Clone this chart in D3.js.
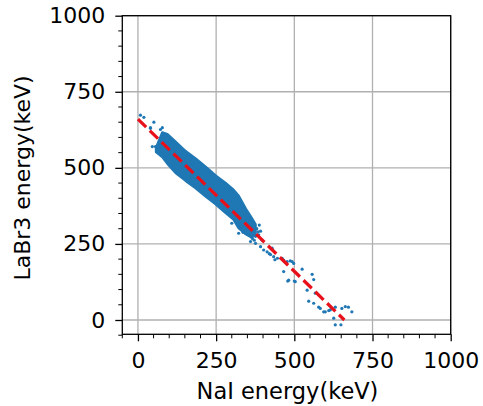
<!DOCTYPE html>
<html>
<head>
<meta charset="utf-8">
<script src="https://cdn.jsdelivr.net/npm/d3@7"></script>
<style>
  body { margin: 0; background: #fff; }
  svg text { font-family: "DejaVu Sans", sans-serif; }
</style>
</head>
<body>
<script>
// axis ticks
var xTicks = [0, 250, 500, 750, 1000];
var yTicks = [0, 250, 500, 750, 1000];

// dense core of the scatter: NaI energy vs upper / lower LaBr3 edge
var bandX      = [58, 78, 94, 120, 152, 184, 216, 248, 280, 306, 322, 345, 362, 376];
var bandTop    = [566, 616, 611, 586, 555, 531, 504, 475, 450, 427, 408, 365, 338, 314];
var bandBottom = [552, 536, 514, 484, 458, 434, 407, 381, 352, 330, 302, 282, 272, 280];

// loose points
var ptNaI   = [8, 19, 51, 40, 46, 56, 40, 78, 72, 70, 66, 88, 104, 60,
               350, 362, 372, 384, 388, 366, 376, 392, 370, 376, 392, 397,
               402, 413, 420, 429, 434, 424, 446, 438, 461, 466, 477, 487, 493, 498,
               466, 479, 482, 500, 503, 525, 557, 562,
               541, 567, 546, 562, 578, 594, 610, 620, 631, 652, 663, 673, 684,
               626, 631, 649, 599, 583, 615, 322, 336, 300, 380, 386, 372, 360];
var ptLaBr  = [673, 666, 650, 632, 570, 570, 630, 632, 626, 560, 572, 608, 592, 558,
               320, 310, 300, 290, 312, 268, 275, 292, 285, 252, 241, 262,
               230, 224, 218, 236, 208, 215, 203, 198, 203, 197, 192, 194, 192, 186,
               159, 128, 131, 128, 126, 167, 150, 133,
               98, 88, 62, 55, 42, 27, 31, 38, 42, 38, 44, 42, 27,
               6, -16, -16, 27, 38, 33, 285, 288, 318, 300, 280, 262, 258];

// fitted line
var fitNaI  = [0, 660];
var fitLaBr = [660, 0];

var width = 483, height = 406;
var plotL = 122.3, plotR = 450.7, plotT = 15.7, plotB = 334.3;

var svg = d3.select("body").append("svg")
            .attr("width", width)
            .attr("height", height);

var x = d3.scaleLinear().domain([-50, 1000]).range([plotL, plotR]);
var y = d3.scaleLinear().domain([-47, 1000]).range([plotB, plotT]);

// grid
svg.append("g").selectAll("line")
   .data(xTicks).enter().append("line")
   .attr("x1", function(d){return x(d)}).attr("x2", function(d){return x(d)})
   .attr("y1", plotT).attr("y2", plotB)
   .attr("stroke", "#b0b0b0").attr("stroke-width", 1.3);
svg.append("g").selectAll("line")
   .data(yTicks).enter().append("line")
   .attr("y1", function(d){return y(d)}).attr("y2", function(d){return y(d)})
   .attr("x1", plotL).attr("x2", plotR)
   .attr("stroke", "#b0b0b0").attr("stroke-width", 1.3);

var blue = "#1f77b4";

// band
var area = d3.area()
             .x(function(d, i){return x(bandX[i])})
             .y0(function(d, i){return y(bandBottom[i])})
             .y1(function(d, i){return y(bandTop[i])});
svg.append("path")
   .attr("d", area(bandX))
   .attr("fill", blue)
   .attr("stroke", blue)
   .attr("stroke-width", 2.5)
   .attr("stroke-linejoin", "round");

svg.append("g").selectAll("circle")
   .data(ptNaI).enter().append("circle")
   .attr("cx", function(d){return x(d)})
   .attr("cy", function(d, i){return y(ptLaBr[i])})
   .attr("r", 1.6)
   .attr("fill", blue);

// fit line
svg.append("line")
   .attr("x1", x(fitNaI[0])).attr("y1", y(fitLaBr[0]))
   .attr("x2", x(fitNaI[1])).attr("y2", y(fitLaBr[1]))
   .attr("stroke", "#e8101a")
   .attr("stroke-width", 3.2)
   .attr("stroke-dasharray", "11.5,5");

// axes
var xAxis = d3.axisBottom(x).tickValues(xTicks).tickSize(7).tickPadding(11).tickFormat(d3.format("d"));
var yAxis = d3.axisLeft(y).tickValues(yTicks).tickSize(7).tickPadding(10).tickFormat(d3.format("d"));

var gx = svg.append("g").attr("transform", "translate(0," + plotB + ")").call(xAxis);
var gy = svg.append("g").attr("transform", "translate(" + plotL + ",0)").call(yAxis);

// minor ticks every 50
var minor = d3.range(-50, 1001, 50).filter(function(d){return d % 250 !== 0});
gx.selectAll("line.minor").data(minor).enter()
  .append("line").attr("class", "minor")
  .attr("x1", function(d){return x(d)}).attr("x2", function(d){return x(d)})
  .attr("y1", 0).attr("y2", 4).attr("stroke", "#000").attr("stroke-width", 1);
gy.selectAll("line.minor").data(minor).enter()
  .append("line").attr("class", "minor")
  .attr("y1", function(d){return y(d)}).attr("y2", function(d){return y(d)})
  .attr("x1", 0).attr("x2", -4).attr("stroke", "#000").attr("stroke-width", 1);

[gx, gy].forEach(function(g){
  g.select(".domain").remove();
  g.selectAll(".tick line").attr("stroke", "#000").attr("stroke-width", 1.3);
  g.selectAll(".tick text").attr("font-size", "22px").attr("fill", "#000")
   .style("font-family", "DejaVu Sans");
});

// frame
svg.append("rect")
   .attr("x", plotL).attr("y", plotT)
   .attr("width", plotR - plotL).attr("height", plotB - plotT)
   .attr("fill", "none").attr("stroke", "#000").attr("stroke-width", 1.3);

svg.append("text")
   .attr("x", (plotL + plotR) / 2 + 1).attr("y", 399)
   .attr("text-anchor", "middle").attr("font-size", "22.5px")
   .text("NaI energy(keV)");

svg.append("text")
   .attr("transform", "translate(30," + ((plotT + plotB) / 2 + 3) + ") rotate(-90)")
   .attr("text-anchor", "middle").attr("font-size", "22px")
   .text("LaBr3 energy(keV)");
</script>
</body>
</html>
